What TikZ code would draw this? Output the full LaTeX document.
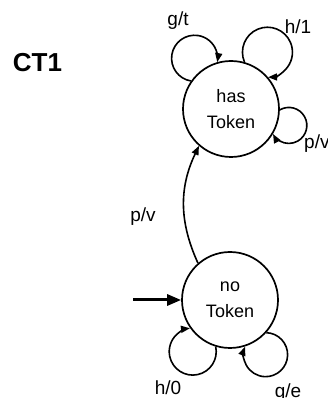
\documentclass[tikz,border=0pt]{standalone}
\usepackage{fontspec}
\setmainfont{Liberation Sans}
\usetikzlibrary{arrows.meta}

\tikzset{
  state/.style={draw, circle, line width=1.7pt, minimum size=96pt, inner sep=0pt,
    align=center, font=\fontsize{18}{26}\selectfont},
  trans/.style={line width=1.6pt, -{Triangle[length=9pt,width=7pt]}},
  lbl/.style={font=\fontsize{19}{19}\selectfont, anchor=base, inner sep=0pt},
}

\begin{document}
\begin{tikzpicture}[x=1pt,y=1pt]
    \useasboundingbox (0,0) rectangle (327,398);

    % Titolo
    \node[font=\bfseries\fontsize{26}{26}\selectfont, anchor=base, inner sep=0pt] (title) at (37.5,326) {CT1};

    % Stati
    \node[state] (has) at (231,289) {has\\Token};
    \node[state] (no) at (230,98) {no\\Token};

    % Stato iniziale
    \coordinate (init) at (133,98);
    \draw[line width=3pt, -{Triangle[length=14pt,width=11pt]}] (init) -- (no);

    % Transizione no -> has
    \draw[trans] (no.131) to[bend left=25] (has.229);
    \node[lbl] (pv) at (143,176) {p/v};

    % Anelli su has
    \draw[trans] (has.145.5) arc[start angle=261, end angle=-9.7, radius=23];
    \node[lbl] (gt) at (178,372) {g/t};
    \draw[trans] (has.74.3) arc[start angle=203.1, end angle=-88.6, radius=25];
    \node[lbl] (h1) at (298,364) {h/1};
    \draw[trans] (has.359.5) arc[start angle=120, end angle=-151.4, radius=18];
    \node[lbl, anchor=base west] (pv2) at (304,249) {p/v};

    % Anelli su no
    \draw[trans] (no.253.7) arc[start angle=12, end angle=-263.2, radius=23.5];
    \node[lbl] (h0) at (168,3) {h/0};
    \draw[trans] (no.318.9) arc[start angle=88.2, end angle=-201.2, radius=22];
    \node[lbl] (ge) at (288,1) {g/e};
\end{tikzpicture}
\end{document}
